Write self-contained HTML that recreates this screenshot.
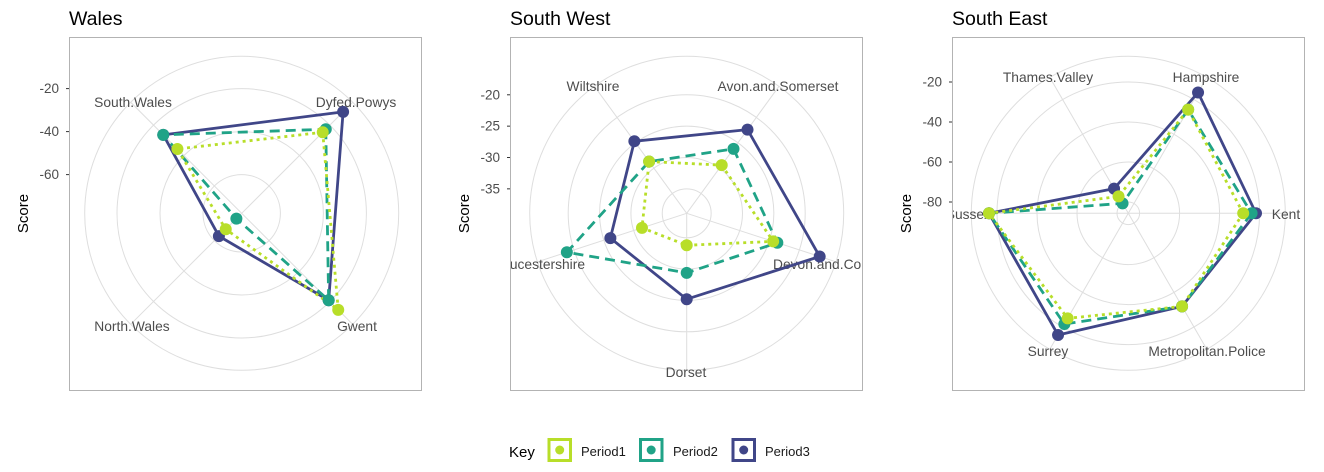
<!DOCTYPE html>
<html><head><meta charset="utf-8"><style>
body{margin:0;background:#fff;}
svg{display:block;font-family:"Liberation Sans",sans-serif;}
</style></head><body>
<svg id="chart" width="1324" height="472" viewBox="0 0 1324 472">
<defs>
<clipPath id="c0"><rect x="69" y="37" width="352" height="353"/></clipPath>
<clipPath id="c1"><rect x="510" y="37" width="352" height="353"/></clipPath>
<clipPath id="c2"><rect x="952" y="37" width="352" height="353"/></clipPath>
</defs>
<g>
<text x="509" y="457" font-size="15" fill="#000">Key</text>
<g><rect x="549" y="439.5" width="21.5" height="21" fill="#fff" stroke="#b8de29" stroke-width="3"/><circle cx="559.7" cy="450" r="4.5" fill="#b8de29"/><text x="581" y="456" font-size="13" fill="#1a1a1a">Period1</text></g>
<g><rect x="640.5" y="439.5" width="21.5" height="21" fill="#fff" stroke="#20a387" stroke-width="3"/><circle cx="651.2" cy="450" r="4.5" fill="#20a387"/><text x="673" y="456" font-size="13" fill="#1a1a1a">Period2</text></g>
<g><rect x="733" y="439.5" width="21.5" height="21" fill="#fff" stroke="#404688" stroke-width="3"/><circle cx="743.7" cy="450" r="4.5" fill="#404688"/><text x="765" y="456" font-size="13" fill="#1a1a1a">Period3</text></g>
</g>
</svg>
<script>
// Wales
const walesCats = ["Dyfed.Powys","Gwent","North.Wales","South.Wales"];
const walesP1 = [-24.7,-14.5,-67.5,-35.7];
const walesP2 = [-22.7,-20.8,-74.5,-26.4];
const walesP3 = [-11.3,-20.8,-63,-26.4];
const walesTicks = [-20,-40,-60];
// South West
const swCats = ["Avon.and.Somerset","Devon.and.Cornwall","Dorset","Gloucestershire","Wiltshire"];
const swP1 = [-29.4,-24.4,-33.8,-31.4,-28.7];
const swP2 = [-26.2,-23.7,-29.4,-18.8,-28.7];
const swP3 = [-22.4,-16.6,-25.2,-26.1,-24.7];
const swTicks = [-20,-25,-30,-35];
// South East
const seCats = ["Kent","Metropolitan.Police","Surrey","Sussex","Thames.Valley","Hampshire"];
const seP1 = [-28.2,-31.9,-25,-16,-75.9,-25.8];
const seP2 = [-24,-31.9,-21.7,-16,-79.9,-25.8];
const seP3 = [-21.8,-31.9,-15.4,-16,-71.4,-15.9];
const seTicks = [-20,-40,-60,-80];

const NS="http://www.w3.org/2000/svg";
const svg=document.getElementById('chart');
function mk(tag,attrs,parent){const e=document.createElementNS(NS,tag);for(const k in attrs)e.setAttribute(k,attrs[k]);(parent||svg).appendChild(e);return e;}
const colors=["#b8de29","#20a387","#404688"];
const dashes=["3,4","10,6",""];

const panels=[
 {title:"Wales",cats:walesCats,series:[walesP1,walesP2,walesP3],ticks:walesTicks,cx:241.7,cy:213.3,vmin:-78,k:2.15,start:45,x0:69,clip:"c0",
  labels:[[356,107,"middle"],[357,331,"middle"],[132,331,"middle"],[133,107,"middle"]]},
 {title:"South West",cats:swCats,series:[swP1,swP2,swP3],ticks:swTicks,cx:686.7,cy:213.3,vmin:-38.9,k:6.27,start:36,x0:510,clip:"c1",
  labels:[[778,91,"middle"],[773,269,"start"],[686,377,"middle"],[585,269,"end"],[593,91,"middle"]]},
 {title:"South East",cats:seCats,series:[seP1,seP2,seP3],ticks:seTicks,cx:1128.3,cy:213.3,vmin:-85.65,k:2.0,start:90,x0:952,clip:"c2",
  labels:[[1286,219,"middle"],[1207,356,"middle"],[1048,356,"middle"],[991,219,"end"],[1048,82,"middle"],[1206,82,"middle"]]}
];
const Router=157;
panels.forEach((p,pi)=>{
  const g=mk('g',{});
  
  
  const r=v=>(v-p.vmin)*p.k;
  const n=p.cats.length;
  const ang=i=>(p.start+i*360/n)*Math.PI/180;
  const pt=(i,v)=>[p.cx+r(v)*Math.sin(ang(i)),p.cy-r(v)*Math.cos(ang(i))];
  const t=mk('text',{x:p.x0,y:25,'font-size':19.5,fill:'#000'},g);t.textContent=p.title;
  
  
  const yt=mk('text',{transform:`translate(${p.x0-41},213.5) rotate(-90)`,'text-anchor':'middle','font-size':15,fill:'#000'},g);yt.textContent="Score";
  
  
  p.ticks.forEach(tv=>{
    const y=p.cy-r(tv);
    const tl=mk('text',{x:p.x0-10,y:y+4.5,'text-anchor':'end','font-size':13.5,fill:'#4d4d4d'},g);tl.textContent=tv;
    
    
    mk('line',{x1:p.x0-3,x2:p.x0,y1:y,y2:y,stroke:'#333','stroke-width':1},g);
  });
  const inner=mk('g',{'clip-path':`url(#${p.clip})`},g);
  p.ticks.forEach(tv=>{
    const c=mk('circle',{cx:p.cx,cy:p.cy,r:r(tv),fill:'none',stroke:'#dedede','stroke-width':1},inner);
    
    
  });
  mk('circle',{cx:p.cx,cy:p.cy,r:Router,fill:'none',stroke:'#dedede','stroke-width':1},inner);
  for(let i=0;i<n;i++){
    const a=ang(i);
    const sp=mk('line',{x1:p.cx,y1:p.cy,x2:p.cx+Router*Math.sin(a),y2:p.cy-Router*Math.cos(a),stroke:'#dedede','stroke-width':1},inner);
    
    
  }
  p.labels.forEach((l,i)=>{
    const lt=mk('text',{x:l[0],y:l[1],'text-anchor':l[2],'font-size':13.8,fill:'#4d4d4d'},inner);lt.textContent=p.cats[i];
    
    
  });
  [2,1,0].forEach(s=>{
    const vals=p.series[s];
    const pts=vals.map((v,i)=>pt(i,v).join(',')).join(' ');
    const pl=mk('polygon',{points:pts,fill:'none',stroke:colors[s],'stroke-width':2.8,'stroke-dasharray':dashes[s],'stroke-linejoin':'round'},inner);
    
    
  });
  [2,1,0].forEach(s=>{
    p.series[s].forEach((v,i)=>{
      const q=pt(i,v);
      const c=mk('circle',{cx:q[0],cy:q[1],r:6,fill:colors[s]},inner);
      
      
    });
  });
  const b=mk('rect',{x:p.x0+0.5,y:37.5,width:352,height:353,fill:'none',stroke:'#b3b3b3','stroke-width':1},g);
  
  
});
</script>
</body></html>
